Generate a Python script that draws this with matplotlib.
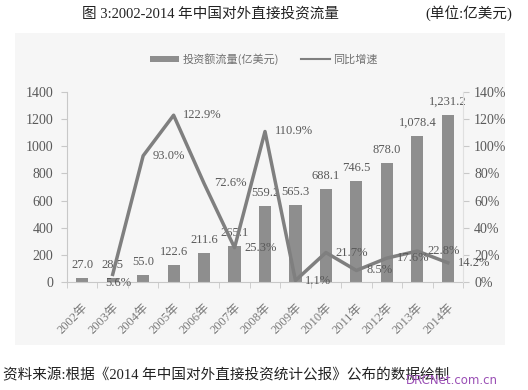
import numpy as np
import matplotlib
matplotlib.use("Agg")
import matplotlib.pyplot as plt
from matplotlib.patches import Rectangle, Patch
from matplotlib.lines import Line2D
from matplotlib.ticker import FuncFormatter, FixedLocator

years = ['2002年', '2003年', '2004年', '2005年', '2006年', '2007年', '2008年',
         '2009年', '2010年', '2011年', '2012年', '2013年', '2014年']
flows = [27.0, 28.5, 55.0, 122.6, 211.6, 265.1, 559.2, 565.3, 688.1, 746.5, 878.0, 1078.4, 1231.2]
growth = [np.nan, 5.6, 93.0, 122.9, 72.6, 25.3, 110.9, 1.1, 21.7, 8.5, 17.6, 22.8, 14.2]

SERIF_CJK = ['Liberation Serif', 'Noto Sans CJK SC']
CJK = ['Noto Sans CJK SC', 'DejaVu Sans']
TXT = '#595959'

fig = plt.figure(figsize=(5.28, 3.9), dpi=100)
fig.patches.append(Rectangle((15/528, 1-345/390), 490/528, 312/390, transform=fig.transFigure,
                             facecolor='#f6f6f6', edgecolor='none', zorder=-10))

ax = fig.add_axes([67/528, 1-282/390, 396/528, 190/390])
ax.set_facecolor('none')
x = np.arange(len(years))
ax.bar(x, flows, width=0.4, color='#8e8e8e', zorder=2)
ax.set_xlim(-0.5, len(years)-0.5)
ax.set_ylim(0, 1400)
ax.set_yticks(np.arange(0, 1401, 200))
for s in ['top', 'right']:
    ax.spines[s].set_visible(False)
ax.spines['left'].set_color('#c8c8c8')
ax.spines['bottom'].set_color('#c8c8c8')
ax.tick_params(axis='y', colors='#c8c8c8', labelcolor=TXT, length=4, pad=6, labelsize=10)
for t in ax.get_yticklabels():
    t.set_family('Liberation Serif')
ax.set_xticks(x)
ax.set_xticklabels(years, rotation=45, ha='right', va='top', rotation_mode='anchor',
                   family=SERIF_CJK, fontsize=9, color='#7a7a7a')
ax.tick_params(axis='x', length=0, pad=14)
ax.xaxis.set_minor_locator(FixedLocator(np.arange(-0.5, len(years), 1.0)))
ax.tick_params(axis='x', which='minor', length=4, color='#c8c8c8')

for i, v in enumerate(flows):
    ax.annotate(f"{v:,.1f}", (i, v), xytext=(0, 5), textcoords='offset points',
                ha='center', va='bottom', fontsize=9, family='Liberation Serif', color=TXT, zorder=5)

ax2 = ax.twinx()
ax2.set_facecolor('none')
ax2.set_ylim(0, 140)
ax2.set_yticks(np.arange(0, 141, 20))
ax2.yaxis.set_major_formatter(FuncFormatter(lambda v, p: f"{int(v)}%"))
for s in ['top', 'left', 'bottom']:
    ax2.spines[s].set_visible(False)
ax2.spines['right'].set_color('#e0e0e0')
ax2.tick_params(axis='y', colors='#c8c8c8', labelcolor=TXT, length=4, pad=4, labelsize=10)
for t in ax2.get_yticklabels():
    t.set_family('Liberation Serif')
ax2.plot(x, growth, color='#7f7f7f', lw=2.5, zorder=3)

for i, g in enumerate(growth):
    if np.isnan(g):
        continue
    if i == 1:
        off, ha = (4, -6), 'center'
    else:
        off, ha = (7, 0), 'left'
    ax2.annotate(f"{g:.1f}%", (i, g), xytext=off, textcoords='offset points',
                 ha=ha, va='center', fontsize=9, family='Liberation Serif', color=TXT, zorder=6)

handles = [Patch(facecolor='#8e8e8e', edgecolor='none'),
           Line2D([0], [0], color='#7f7f7f', lw=1.5)]
leg = fig.legend(handles, ['投资额流量(亿美元)', '同比增速'], loc='center',
                 bbox_to_anchor=(0.5, 1-59/390), ncol=2, frameon=False,
                 prop={'family': CJK, 'size': 8}, handlelength=2.6, handleheight=0.5,
                 columnspacing=2.0, handletextpad=0.3)
for t in leg.get_texts():
    t.set_color('#707070')

fig.text(82/528, 1-13/390, '图 3:2002-2014 年中国对外直接投资流量', family=SERIF_CJK,
         fontsize=10.5, color='#222222', ha='left', va='center')
fig.text(512/528, 1-13/390, '(单位:亿美元)', family=SERIF_CJK,
         fontsize=10.5, color='#222222', ha='right', va='center')
fig.text(3/528, 1-375/390, '资料来源:根据《2014 年中国对外直接投资统计公报》公布的数据绘制',
         family=SERIF_CJK, fontsize=10.5, color='#222222', ha='left', va='center')
fig.text(498/528, 1-381/390, 'DRCNet.com.cn', family='DejaVu Sans', fontsize=8.5,
         color='#9a4fb5', ha='right', va='center')

fig.savefig('out.png', dpi=100)
